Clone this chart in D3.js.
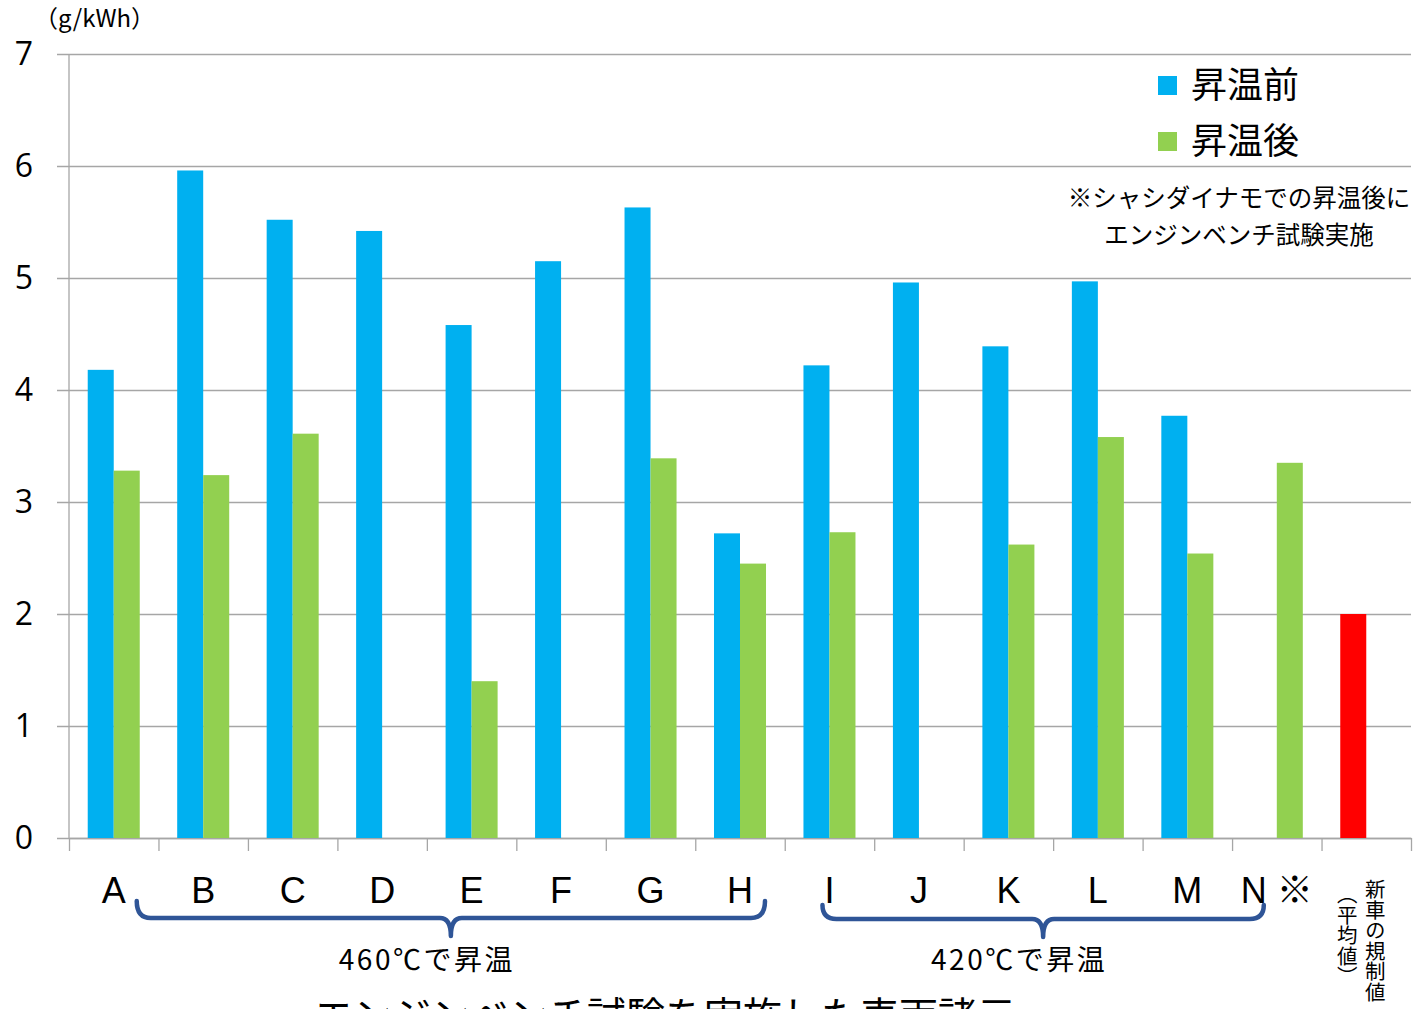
<!DOCTYPE html>
<html><head><meta charset="utf-8">
<script src="https://cdn.jsdelivr.net/npm/d3@7"></script>
<style>
html,body{margin:0;padding:0;background:#fff;}
svg{display:block;}
.jp{font-family:"Noto Sans CJK JP","Noto Sans",sans-serif;}
</style></head>
<body>
<svg id="chart" width="1416" height="1009"></svg>
<script>
// ---- data ----
const categories = ["A","B","C","D","E","F","G","H","I","J","K","L","M","N※","新車の規制値（平均値）"];
const tickLabels = ["A","B","C","D","E","F","G","H","I","J","K","L","M","N ※",""];
const regLabelLines = ["新車の規制値","（平均値）"];
const beforeValues = [4.18,5.96,5.52,5.42,4.58,5.15,5.63,2.72,4.22,4.96,4.39,4.97,3.77,null,null];
const afterValues  = [3.28,3.24,3.61,null,1.40,null,3.39,2.45,2.73,null,2.62,3.58,2.54,3.35,null];
const regulationValues = [null,null,null,null,null,null,null,null,null,null,null,null,null,null,2.00];
const seriesNames = ["昇温前","昇温後"];
const yTicks = [0,1,2,3,4,5,6,7];
const unitLabel = "（g/kWh）";
const noteLines = ["※シャシダイナモでの昇温後に","エンジンベンチ試験実施"];
const groups = [
  {label:"460℃で昇温", from:"A", to:"H"},
  {label:"420℃で昇温", from:"I", to:"N※"}
];
const bottomTitle = "エンジンベンチ試験を実施した車両諸元";

// ---- layout ----
const colors = {before:"#00B0F0", after:"#92D050", reg:"#FF0000"};
const svg = d3.select("#chart");
const pLeft = 69, pRight = 1411, pTop = 54, pBottom = 838;

const x = d3.scaleBand().domain(categories).range([pLeft,pRight]).paddingInner(0).paddingOuter(0);
const xSub = d3.scaleBand().domain(["before","after"]).range([0,x.bandwidth()]).paddingInner(0).paddingOuter(0.72);
const y = d3.scaleLinear().domain([0,7]).range([pBottom,pTop]);
const xEdge = d3.scaleLinear().domain([0,categories.length]).range([pLeft,pRight]);

// y axis with gridlines
const yAxis = d3.axisLeft(y).tickValues(yTicks).tickFormat(d3.format("d"))
  .tickSize(-(pRight-57)).tickPadding(24);
const gy = svg.append("g").attr("transform",`translate(${57},0)`).call(yAxis);
gy.select(".domain").remove();
gy.selectAll(".tick line").attr("stroke","#A6A6A6").attr("stroke-width",1.3).attr("x1",0);
gy.selectAll(".tick text").attr("font-family","Open Sans, Noto Sans, sans-serif")
  .attr("font-size",32).attr("fill","#000").attr("dy","0.32em");

// y axis line
svg.append("line").attr("x1",pLeft).attr("x2",pLeft).attr("y1",pTop).attr("y2",pBottom)
  .attr("stroke","#A6A6A6").attr("stroke-width",1.3);

// x axis ticks at band edges
const xAxis = d3.axisBottom(xEdge).tickValues(d3.range(categories.length+1)).tickFormat("").tickSize(13).tickSizeOuter(0);
const gx = svg.append("g").attr("transform",`translate(0,${pBottom})`).call(xAxis);
gx.select(".domain").attr("stroke","#A6A6A6").attr("stroke-width",1.3);
gx.selectAll(".tick line").attr("stroke","#A6A6A6").attr("stroke-width",1.3);

// bars
const bars = svg.append("g");
function drawSeries(vals, key, color){
  bars.selectAll(null).data(categories.map((c,i)=>({c,v:vals[i]})).filter(d=>d.v!=null))
    .enter().append("rect")
    .attr("x",d=>x(d.c)+xSub(key)).attr("width",xSub.bandwidth())
    .attr("y",d=>y(d.v)).attr("height",d=>y(0)-y(d.v))
    .attr("fill",color);
}
drawSeries(beforeValues,"before",colors.before);
drawSeries(afterValues,"after",colors.after);
drawSeries(regulationValues,"before",colors.reg);

// category labels
svg.append("g").selectAll("text").data(categories).enter().append("text")
  .attr("x",d=>x(d)+x.bandwidth()/2).attr("y",903)
  .attr("text-anchor","middle")
  .attr("font-family","Liberation Sans, Arial, 'Noto Sans CJK JP', sans-serif")
  .attr("font-size",36).attr("fill","#000")
  .text((d,i)=>tickLabels[i]);

// vertical label for regulation value
const regX = x(categories[14]) + x.bandwidth()/2;
svg.append("text").attr("class","jp").attr("x",regX+9).attr("y",879)
  .style("writing-mode","vertical-rl").attr("font-size",20.5).attr("fill","#000")
  .text(regLabelLines[0]);
svg.append("text").attr("class","jp").attr("x",regX-19).attr("y",884)
  .style("writing-mode","vertical-rl").attr("font-size",20.5).attr("fill","#000")
  .text(regLabelLines[1]);

// unit label
svg.append("text").attr("class","jp").attr("x",34).attr("y",27).attr("font-size",24).attr("fill","#000").text(unitLabel);

// legend
const legend = svg.append("g");
[["before",colors.before,85],["after",colors.after,141]].forEach(([k,c,cy],i)=>{
  legend.append("rect").attr("x",1158).attr("y",cy-9).attr("width",19).attr("height",19).attr("fill",c);
  legend.append("text").attr("class","jp").attr("x",1191).attr("y",cy+13).attr("font-size",36).attr("fill","#000").text(seriesNames[i]);
});
noteLines.forEach((t,i)=>{
  svg.append("text").attr("class","jp").attr("x",1239).attr("y",207+i*37)
    .attr("text-anchor","middle").attr("font-size",24.5).attr("fill","#000").text(t);
});

// braces
const braceColor = "#2F5597";
const braceOffsets = [[23,25],[-7,-13]];
groups.forEach((g,i)=>{
  const x0 = x(g.from)+x.bandwidth()/2+braceOffsets[i][0];
  const x1 = x(g.to)+x.bandwidth()/2+braceOffsets[i][1];
  const tip = (x0+x1)/2;
  const y0 = 901+i*4, y1 = 918+i*1, y2 = 936+i*1, r = 14, rt = 11;
  const p = `M${x0},${y0} Q${x0},${y1} ${x0+r},${y1} L${tip-rt},${y1} Q${tip},${y1} ${tip},${y2} Q${tip},${y1} ${tip+rt},${y1} L${x1-r},${y1} Q${x1},${y1} ${x1},${y0}`;
  svg.append("path").attr("d",p).attr("fill","none").attr("stroke",braceColor).attr("stroke-width",4.5)
    .attr("stroke-linecap","round").attr("stroke-linejoin","round");
  svg.append("text").attr("class","jp").attr("x",tip-24).attr("y",970).attr("text-anchor","middle")
    .attr("font-size",28).attr("letter-spacing",2.5).attr("fill","#000").text(g.label);
});

// bottom title (cut off)
svg.append("text").attr("class","jp").attr("x",665).attr("y",1030).attr("text-anchor","middle")
  .attr("font-size",39).attr("fill","#000").text(bottomTitle);
</script>
</body></html>
